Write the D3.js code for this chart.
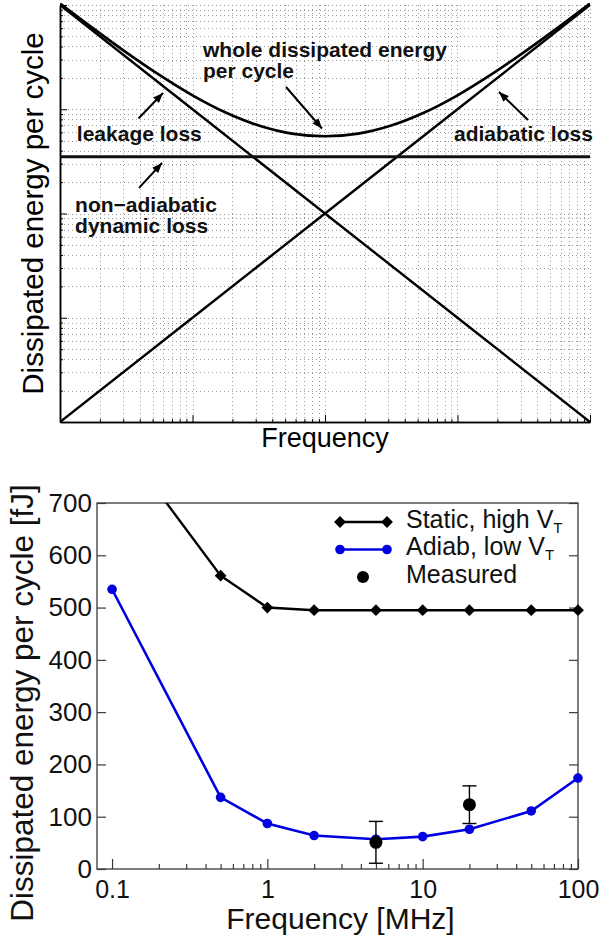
<!DOCTYPE html>
<html>
<head>
<meta charset="utf-8">
<script src="https://cdn.jsdelivr.net/npm/d3@7"></script>
<style>
  body { margin: 0; background: #fff; }
  svg { display: block; font-family: 'Liberation Sans', Arial, Helvetica, sans-serif; }
</style>
</head>
<body>
<div id="chart"></div>
<script>
'use strict';

// ---- top panel: loss components, arbitrary units on log-log axes ----
var topFreq = [1, 10, 100, 1000, 10000];
var leakageLoss = [10000, 1000, 100, 10, 1];
var adiabaticLoss = [1, 10, 100, 1000, 10000];
var nonAdiabaticLoss = [350, 350, 350, 350, 350];

// whole dissipated energy, read at quarter decades
var wholeFreq = [1, 1.78, 3.16, 5.62, 10, 17.8, 31.6, 56.2, 100, 178, 316, 562, 1000, 1778, 3162, 5623, 10000];
var wholeLoss = [10351, 5970, 3515, 2134, 1360, 930, 698, 584, 550, 584, 698, 930, 1360, 2134, 3515, 5970, 10351];

// ---- bottom panel: energy per cycle [fJ] vs frequency [MHz] ----
var freqMHz = [0.1, 0.5, 1, 2, 5, 10, 20, 50, 100];
var staticHighVt = [840, 561, 500, 495, 495, 495, 495, 495, 495];
var adiabLowVt = [535, 137, 87, 64, 57, 62, 76, 111, 174];
var measuredFreq = [5, 20];
var measuredVal = [51, 123];
var measuredLow = [11, 87];
var measuredHigh = [91, 159];
var energyTicks = [0, 100, 200, 300, 400, 500, 600, 700];
var freqTicks = [0.1, 1, 10, 100];
var freqTickLabels = ['0.1', '1', '10', '100'];

var W = 603, H = 937;
var svg = d3.select('#chart').append('svg')
	.attr('width', W)
	.attr('height', H);

var defs = svg.append('defs');

// arrow head for the annotations
defs.append('marker')
	.attr('id', 'arrow')
	.attr('viewBox', '0 0 10 8')
	.attr('refX', 10)
	.attr('refY', 4)
	.attr('markerUnits', 'userSpaceOnUse')
	.attr('markerWidth', 11)
	.attr('markerHeight', 8)
	.attr('orient', 'auto')
	.append('path')
		.attr('d', 'M0,0 L10,4 L0,8 Z')
		.attr('fill', '#000');

function isMajor(d) {
	var l = Math.log10(d);
	return Math.abs(l - Math.round(l)) < 1e-6;
}

// ===================== TOP PANEL =====================
var p1 = {left: 60, right: 590, top: 5, bottom: 422};
var xTop = d3.scaleLog().domain([1, 1e4]).range([p1.left, p1.right]);
var yTop = d3.scaleLog().domain([1, 1e4]).range([p1.bottom, p1.top]);

defs.append('clipPath').attr('id', 'clipTop')
	.append('rect')
		.attr('x', p1.left)
		.attr('y', p1.top - 2)
		.attr('width', p1.right - p1.left)
		.attr('height', p1.bottom - p1.top + 2);

var gTop = svg.append('g');

// dotted grid on every log tick
var gridX = xTop.ticks(), gridY = yTop.ticks();
gTop.append('g').selectAll('line')
		.data(gridX.filter(function(d) { return d > 1; }))
	.enter().append('line')
		.attr('x1', function(d) { return Math.round(xTop(d)) + 0.5; })
		.attr('x2', function(d) { return Math.round(xTop(d)) + 0.5; })
		.attr('y1', p1.top)
		.attr('y2', p1.bottom)
		.attr('stroke', '#999')
		.attr('stroke-dasharray', '1,3')
		.attr('shape-rendering', 'crispEdges');
gTop.append('g').selectAll('line')
		.data(gridY.filter(function(d) { return d > 1; }))
	.enter().append('line')
		.attr('y1', function(d) { return Math.round(yTop(d)) + 0.5; })
		.attr('y2', function(d) { return Math.round(yTop(d)) + 0.5; })
		.attr('x1', p1.left)
		.attr('x2', p1.right)
		.attr('stroke', '#999')
		.attr('stroke-dasharray', '1,3')
		.attr('shape-rendering', 'crispEdges');

// axes: minor and major ticks pointing inward, no labels
function styleAxis(g) {
	g.selectAll('.domain').attr('stroke', '#000').attr('stroke-width', 1.5);
	g.selectAll('.tick line').attr('stroke', '#000');
}
gTop.append('g')
	.attr('transform', 'translate(0,' + p1.bottom + ')')
	.call(d3.axisBottom(xTop).tickValues(gridX.filter(function(d) { return !isMajor(d); }))
		.tickSize(-3).tickSizeOuter(0).tickFormat(''))
	.call(styleAxis);
gTop.append('g')
	.attr('transform', 'translate(0,' + p1.bottom + ')')
	.call(d3.axisBottom(xTop).tickValues(gridX.filter(isMajor))
		.tickSize(-7).tickSizeOuter(0).tickFormat(''))
	.call(styleAxis);
gTop.append('g')
	.attr('transform', 'translate(' + p1.left + ',0)')
	.call(d3.axisLeft(yTop).tickValues(gridY.filter(function(d) { return !isMajor(d); }))
		.tickSize(-3).tickSizeOuter(0).tickFormat(''))
	.call(styleAxis);
gTop.append('g')
	.attr('transform', 'translate(' + p1.left + ',0)')
	.call(d3.axisLeft(yTop).tickValues(gridY.filter(isMajor))
		.tickSize(-7).tickSizeOuter(0).tickFormat(''))
	.call(styleAxis);

var lineTop = d3.line()
	.x(function(d) { return xTop(d[0]); })
	.y(function(d) { return yTop(d[1]); });

var curves = gTop.append('g').attr('clip-path', 'url(#clipTop)');
[leakageLoss, adiabaticLoss].forEach(function(series) {
	curves.append('path')
		.datum(d3.zip(topFreq, series))
		.attr('d', lineTop)
		.attr('fill', 'none')
		.attr('stroke', '#000')
		.attr('stroke-width', 2.4);
});
curves.append('path')
	.datum(d3.zip(topFreq, nonAdiabaticLoss))
	.attr('d', lineTop)
	.attr('fill', 'none')
	.attr('stroke', '#111')
	.attr('stroke-width', 3);
curves.append('path')
	.datum(d3.zip(wholeFreq, wholeLoss))
	.attr('d', lineTop.curve(d3.curveCatmullRom))
	.attr('fill', 'none')
	.attr('stroke', '#000')
	.attr('stroke-width', 2.6);

// annotations, placed in data coordinates [freq, energy]
var arrowsTop = [
	[[50.8, 1634], [94.9, 654]],
	[[3.91, 815], [5.99, 1432]],
	[[3405, 789], [2056, 1464]],
	[[3.95, 176], [5.89, 305]]
];
gTop.append('g').selectAll('line')
		.data(arrowsTop)
	.enter().append('line')
		.attr('x1', function(d) { return xTop(d[0][0]); })
		.attr('y1', function(d) { return yTop(d[0][1]); })
		.attr('x2', function(d) { return xTop(d[1][0]); })
		.attr('y2', function(d) { return yTop(d[1][1]); })
		.attr('stroke', '#000')
		.attr('stroke-width', 2)
		.attr('marker-end', 'url(#arrow)');

var notesTop = [
	{text: 'whole dissipated energy', f: 12, e: 3170, dy: 0},
	{text: 'per cycle', f: 12, e: 3170, dy: 21},
	{text: 'leakage loss', f: 1.34, e: 496, dy: 0},
	{text: 'adiabatic loss', f: 941, e: 496, dy: 0},
	{text: 'non\u2212adiabatic', f: 1.30, e: 104.5, dy: 0},
	{text: 'dynamic loss', f: 1.30, e: 104.5, dy: 21}
];
gTop.append('g').selectAll('text')
		.data(notesTop)
	.enter().append('text')
		.attr('x', function(d) { return xTop(d.f); })
		.attr('y', function(d) { return yTop(d.e) + d.dy; })
		.style('font-size', '21px')
		.style('font-weight', 'bold')
		.attr('fill', '#111')
		.text(function(d) { return d.text; });

// axis titles
gTop.append('text')
	.attr('transform', 'translate(43,' + ((p1.top + p1.bottom) / 2) + ') rotate(-90)')
	.attr('text-anchor', 'middle')
	.style('font-size', '29.5px')
	.text('Dissipated energy per cycle');
gTop.append('text')
	.attr('x', (p1.left + p1.right) / 2)
	.attr('y', 447)
	.attr('text-anchor', 'middle')
	.style('font-size', '27px')
	.text('Frequency');

// ===================== BOTTOM PANEL =====================
var p2 = {left: 97, right: 578, top: 503, bottom: 869};
var xBot = d3.scaleLog().domain([0.08, 100]).range([p2.left, p2.right]);
var yBot = d3.scaleLinear().domain([0, 700]).range([p2.bottom, p2.top]);

defs.append('clipPath').attr('id', 'clipBot')
	.append('rect')
		.attr('x', p2.left - 10)
		.attr('y', p2.top)
		.attr('width', p2.right - p2.left + 20)
		.attr('height', p2.bottom - p2.top + 10);

var gBot = svg.append('g');
var frameColor = '#3a3a3a';

function styleAxisBot(size) {
	return function(g) {
		g.select('.domain').remove();
		g.selectAll('.tick line').attr('stroke', frameColor).attr('stroke-width', 1.2);
		g.selectAll('.tick text')
			.attr('fill', '#111')
			.style('font-size', size + 'px')
			.style('font-family', "'Liberation Sans', Arial, sans-serif");
	};
}

var minorFreq = xBot.ticks().filter(function(d) { return d > 0.1 && !isMajor(d); });
gBot.append('g')
	.attr('transform', 'translate(0,' + p2.bottom + ')')
	.call(d3.axisBottom(xBot).tickValues(minorFreq).tickSize(-5).tickFormat(''))
	.call(styleAxisBot(25));
gBot.append('g')
	.attr('transform', 'translate(0,' + p2.bottom + ')')
	.call(d3.axisBottom(xBot).tickValues(freqTicks).tickSize(-10).tickPadding(11)
		.tickFormat(function(d, i) { return freqTickLabels[i]; }))
	.call(styleAxisBot(25));
gBot.append('g')
	.attr('transform', 'translate(' + p2.left + ',0)')
	.call(d3.axisLeft(yBot).tickValues(energyTicks).tickSize(-9).tickPadding(5))
	.call(styleAxisBot(26));
gBot.append('g')
	.attr('transform', 'translate(' + p2.right + ',0)')
	.call(d3.axisRight(yBot).tickValues(energyTicks).tickSize(-9).tickFormat(''))
	.call(styleAxisBot(25));

gBot.append('rect')
	.attr('x', p2.left)
	.attr('y', p2.top)
	.attr('width', p2.right - p2.left)
	.attr('height', p2.bottom - p2.top)
	.attr('fill', 'none')
	.attr('stroke', frameColor)
	.attr('stroke-width', 1.3);

var blue = '#0000e0';
var lineBot = d3.line()
	.x(function(d) { return xBot(d[0]); })
	.y(function(d) { return yBot(d[1]); });

var diamond = d3.symbol().type(d3.symbolSquare).size(70);

var series = gBot.append('g').attr('clip-path', 'url(#clipBot)');

// static, high VT
series.append('path')
	.datum(d3.zip(freqMHz, staticHighVt))
	.attr('d', lineBot)
	.attr('fill', 'none')
	.attr('stroke', '#000')
	.attr('stroke-width', 2.4);
series.selectAll('.dia')
		.data(d3.zip(freqMHz, staticHighVt).filter(function(d) { return d[1] <= 700; }))
	.enter().append('path')
		.attr('class', 'dia')
		.attr('d', diamond)
		.attr('transform', function(d) { return 'translate(' + xBot(d[0]) + ',' + yBot(d[1]) + ') rotate(45)'; })
		.attr('fill', '#000');

// adiabatic, low VT
series.append('path')
	.datum(d3.zip(freqMHz, adiabLowVt))
	.attr('d', lineBot)
	.attr('fill', 'none')
	.attr('stroke', blue)
	.attr('stroke-width', 2.6);
series.selectAll('.dot')
		.data(d3.zip(freqMHz, adiabLowVt))
	.enter().append('circle')
		.attr('class', 'dot')
		.attr('cx', function(d) { return xBot(d[0]); })
		.attr('cy', function(d) { return yBot(d[1]); })
		.attr('r', 4.8)
		.attr('fill', blue);

// measured with error bars
var meas = measuredFreq.map(function(f, i) {
	return {f: f, v: measuredVal[i], lo: measuredLow[i], hi: measuredHigh[i]};
});
var eb = gBot.append('g').selectAll('g')
		.data(meas)
	.enter().append('g');
eb.append('line')
	.attr('x1', function(d) { return xBot(d.f); })
	.attr('x2', function(d) { return xBot(d.f); })
	.attr('y1', function(d) { return yBot(d.lo); })
	.attr('y2', function(d) { return yBot(d.hi); })
	.attr('stroke', '#000')
	.attr('stroke-width', 1.4);
['lo', 'hi'].forEach(function(k) {
	eb.append('line')
		.attr('x1', function(d) { return xBot(d.f) - 7; })
		.attr('x2', function(d) { return xBot(d.f) + 7; })
		.attr('y1', function(d) { return yBot(d[k]); })
		.attr('y2', function(d) { return yBot(d[k]); })
		.attr('stroke', '#000')
		.attr('stroke-width', 1.4);
});
eb.append('circle')
	.attr('cx', function(d) { return xBot(d.f); })
	.attr('cy', function(d) { return yBot(d.v); })
	.attr('r', 6.5)
	.attr('fill', '#000');

// legend
var legend = gBot.append('g').attr('transform', 'translate(340,522)');
var legendRows = [
	{name: 'Static, high V', color: '#000', kind: 'diamond'},
	{name: 'Adiab, low V', color: blue, kind: 'circle'},
	{name: 'Measured', color: '#000', kind: 'dot'}
];
legendRows.forEach(function(r, i) {
	var g = legend.append('g').attr('transform', 'translate(0,' + (i * 27.5) + ')');
	if (r.kind === 'dot') {
		g.append('circle').attr('cx', 23).attr('cy', 0).attr('r', 6).attr('fill', '#000');
	} else {
		g.append('line').attr('x1', 0).attr('x2', 47).attr('stroke', r.color).attr('stroke-width', 2.4);
		[0, 47].forEach(function(x) {
			if (r.kind === 'diamond') {
				g.append('path').attr('d', diamond)
					.attr('transform', 'translate(' + x + ',0) rotate(45)')
					.attr('fill', r.color);
			} else {
				g.append('circle').attr('cx', x).attr('r', 4.8).attr('fill', r.color);
			}
		});
	}
	var t = g.append('text')
		.attr('x', 66)
		.attr('y', 5.5)
		.style('font-size', '25px')
		.attr('fill', '#111')
		.text(r.name);
	if (r.kind !== 'dot') {
		t.append('tspan')
			.attr('dy', 5)
			.style('font-size', '15px')
			.text('T');
	}
});

// axis titles
gBot.append('text')
	.attr('transform', 'translate(33,' + 703 + ') rotate(-90)')
	.attr('text-anchor', 'middle')
	.style('font-size', '31.5px')
	.attr('fill', '#111')
	.text('Dissipated energy per cycle [fJ]');
gBot.append('text')
	.attr('x', (p2.left + p2.right) / 2 + 3)
	.attr('y', 929)
	.attr('text-anchor', 'middle')
	.style('font-size', '30px')
	.attr('fill', '#111')
	.text('Frequency [MHz]');
</script>
</body>
</html>
